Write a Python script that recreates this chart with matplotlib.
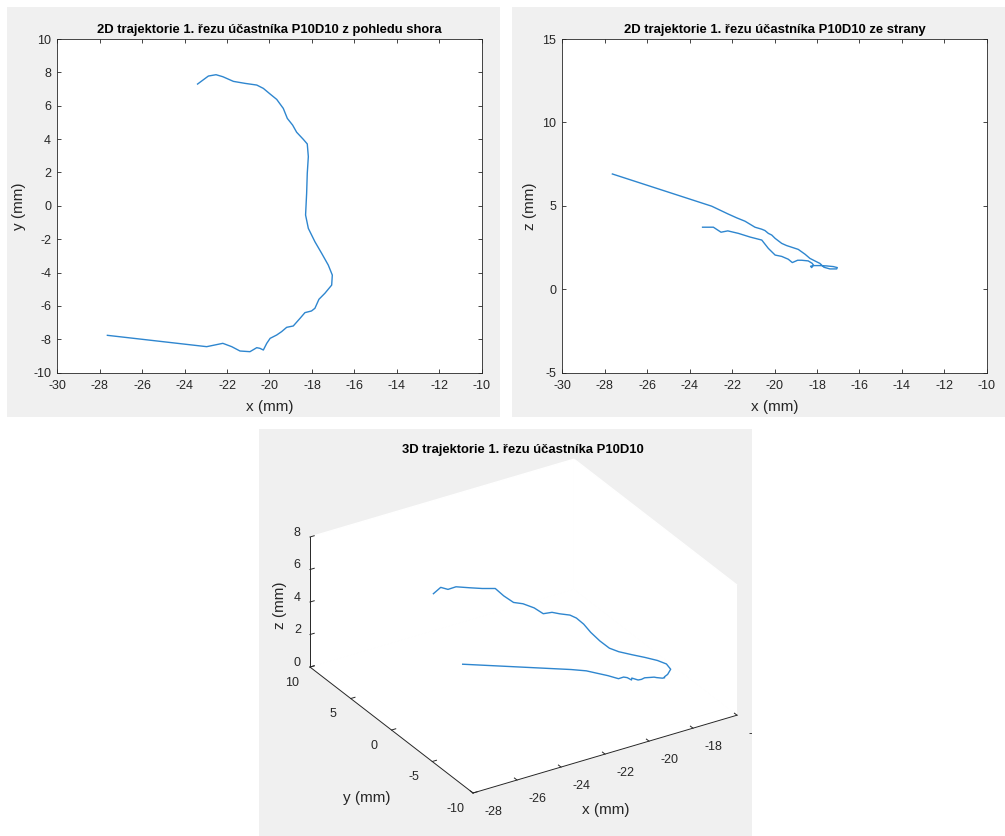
import matplotlib
matplotlib.use('Agg')
import matplotlib.pyplot as plt
import numpy as np
from matplotlib.patches import Rectangle
from matplotlib.transforms import Bbox
from mpl_toolkits.mplot3d import proj3d

W, H = 1005, 836
PANEL = '#f0f0f0'
INK = '#262626'
LINE = '#2e86cf'

plt.rcParams['font.family'] = ['Liberation Sans', 'DejaVu Sans']
plt.rcParams['axes.unicode_minus'] = False

# trajectory of the cut (mm)
x_mm = [-23.39, -22.88, -22.52, -22.20, -21.70, -21.15, -20.60, -20.29, -19.97, -19.66,
        -19.35, -19.16, -18.91, -18.72, -18.41, -18.22, -18.17, -18.22, -18.25, -18.30,
        -18.17, -17.86, -17.54, -17.23, -17.04, -17.07, -17.39, -17.67, -17.86, -18.02,
        -18.33, -18.56, -18.88, -19.19, -19.43, -19.66, -19.97, -20.13, -20.29, -20.45,
        -20.60, -20.92, -21.39, -21.78, -22.20, -22.96, -27.64]
y_mm = [7.30, 7.78, 7.86, 7.74, 7.46, 7.34, 7.24, 7.04, 6.70, 6.38,
        5.84, 5.24, 4.84, 4.41, 3.99, 3.71, 2.95, 1.95, 0.75, -0.55,
        -1.35, -2.15, -2.85, -3.55, -4.15, -4.75, -5.24, -5.60, -6.14, -6.30,
        -6.40, -6.74, -7.20, -7.28, -7.54, -7.74, -7.94, -8.24, -8.64, -8.54,
        -8.50, -8.74, -8.70, -8.44, -8.24, -8.44, -7.76]
z_mm = [3.72, 3.72, 3.42, 3.50, 3.35, 3.13, 2.95, 2.45, 2.05, 1.97,
        1.80, 1.60, 1.74, 1.74, 1.70, 1.55, 1.45, 1.35, 1.30, 1.38,
        1.42, 1.42, 1.40, 1.36, 1.30, 1.22, 1.22, 1.32, 1.55, 1.65,
        1.85, 2.10, 2.39, 2.52, 2.62, 2.75, 3.05, 3.25, 3.35, 3.52,
        3.60, 3.72, 4.08, 4.28, 4.52, 4.98, 6.91]

x_ticks = list(range(-30, -9, 2))
title_top = '2D trajektorie 1. řezu účastníka P10D10 z pohledu shora'
title_side = '2D trajektorie 1. řezu účastníka P10D10 ze strany'
title_3d = '3D trajektorie 1. řezu účastníka P10D10'


def fig_rect(left, top, right, bottom):
    return [left / W, 1 - bottom / H, (right - left) / W, (bottom - top) / H]


fig = plt.figure(figsize=(W / 100, H / 100), dpi=100)
fig.patch.set_facecolor('white')

panels = [(7, 7, 500, 417), (512, 7, 1005, 417), (259, 429, 752, 836)]
for p in panels:
    l, b, w, h = fig_rect(*p)
    fig.add_artist(Rectangle((l, b), w, h, transform=fig.transFigure,
                             facecolor=PANEL, edgecolor='none', zorder=-5))


def flat_axes(rect, yvals, ylim, yticks, title, ylab, ylab_x):
    ax = fig.add_axes(fig_rect(*rect))
    ax.plot(x_mm, yvals, color=LINE, lw=1.0)
    ax.set_xlim(-30, -10)
    ax.set_xticks(x_ticks)
    ax.set_ylim(*ylim)
    ax.set_yticks(yticks)
    ax.tick_params(direction='in', top=True, right=True, length=3, width=0.6,
                   colors=INK, labelsize=9)
    ax.tick_params(axis='x', pad=5)
    ax.tick_params(axis='y', pad=4.5)
    for s in ax.spines.values():
        s.set_color(INK)
        s.set_linewidth(0.6)
    ax.set_title(title, fontsize=9.4, fontweight='bold', color='black', pad=4)
    ax.set_xlabel('x (mm)', fontsize=11, color=INK, va='center')
    ax.set_ylabel(ylab, fontsize=11, color=INK, va='center')
    ax.xaxis.set_label_coords(0.5, -0.103)
    ax.yaxis.set_label_coords(ylab_x, 0.5)
    return ax


flat_axes((57.3, 39, 481.7, 372.7), y_mm, (-10, 10), range(-10, 11, 2),
          title_top, 'y (mm)', -0.090)
flat_axes((562.3, 39, 986.7, 372.7), z_mm, (-5, 15), range(-5, 16, 5),
          title_side, 'z (mm)', -0.075)

# 3D view
ax3 = fig.add_axes([0.3, 0.05, 0.4, 0.4 * W / H], projection='3d', proj_type='ortho')
ax3.plot(x_mm, y_mm, z_mm, color=LINE, lw=1.0)
ax3.set_xlim(-28, -16)
ax3.set_ylim(-10, 10)
ax3.set_zlim(0, 8)
ax3.set_xticks(range(-28, -15, 2))
ax3.set_yticks([-10, -5, 0, 5, 10])
ax3.set_zticks([0, 2, 4, 6, 8])
ax3.set_box_aspect((1, 1, 0.477))
ax3.view_init(elev=28.5, azim=-121.7)
ax3.grid(False)
ax3.patch.set_alpha(0)
for axis in (ax3.xaxis, ax3.yaxis, ax3.zaxis):
    axis.set_pane_color((1, 1, 1, 1))
    axis.pane.set_edgecolor((1, 1, 1, 0))
    axis.line.set_color(INK)
    axis.line.set_linewidth(0.7)
    axis._axinfo['tick']['inward_factor'] = 0.0
    axis._axinfo['tick']['outward_factor'] = 0.2
    axis._axinfo['tick']['linewidth'] = {True: 0.7, False: 0.5}
    axis._axinfo['tick']['color'] = INK
ax3.tick_params(labelsize=9, colors=INK)
ax3.zaxis.set_tick_params(pad=-3)

target = (310, 737, H - 793, H - 460)
for _ in range(2):
    fig.canvas.draw()
    M = ax3.get_proj()
    cx, cy, cz = np.meshgrid([-28, -16], [-10, 10], [0, 8])
    xs, ys, _z = proj3d.proj_transform(cx.ravel(), cy.ravel(), cz.ravel(), M)
    pts = ax3.transData.transform(np.column_stack([xs, ys]))
    x0, x1 = pts[:, 0].min(), pts[:, 0].max()
    y0, y1 = pts[:, 1].min(), pts[:, 1].max()
    pos = ax3.get_position(original=True)
    s = (target[1] - target[0]) / (x1 - x0)
    nl = (target[0] - s * (x0 - pos.x0 * W)) / W
    nb = (target[2] - s * (y0 - pos.y0 * H)) / H
    ax3.set_position([nl, nb, pos.width * s, pos.height * s])

fig.text(523 / W, 1 - 450 / H, title_3d, fontsize=9.4, fontweight='bold',
         color='black', ha='center', va='center')
fig.text(280 / W, 1 - 605 / H, 'z (mm)', fontsize=11, color=INK, rotation=90,
         ha='center', va='center')
fig.text(367 / W, 1 - 798 / H, 'y (mm)', fontsize=11, color=INK, ha='center', va='center')
fig.text(606 / W, 1 - 810 / H, 'x (mm)', fontsize=11, color=INK, ha='center', va='center')

fig.canvas.draw()
clip = Bbox.from_extents(259, 0, 752, H - 429)
for axis in (ax3.xaxis, ax3.yaxis, ax3.zaxis):
    for t in axis.get_major_ticks():
        t.label1.set_clip_box(clip)
        t.label1.set_clip_on(True)
for t in ax3.xaxis.get_major_ticks():
    t.label1.set_ha('left')
    t.label1.set_va('center_baseline')
for t in ax3.yaxis.get_major_ticks():
    t.label1.set_va('center_baseline')
for t in ax3.zaxis.get_major_ticks():
    t.label1.set_va('baseline')

fig.savefig('out.png', dpi=100, facecolor='white')
